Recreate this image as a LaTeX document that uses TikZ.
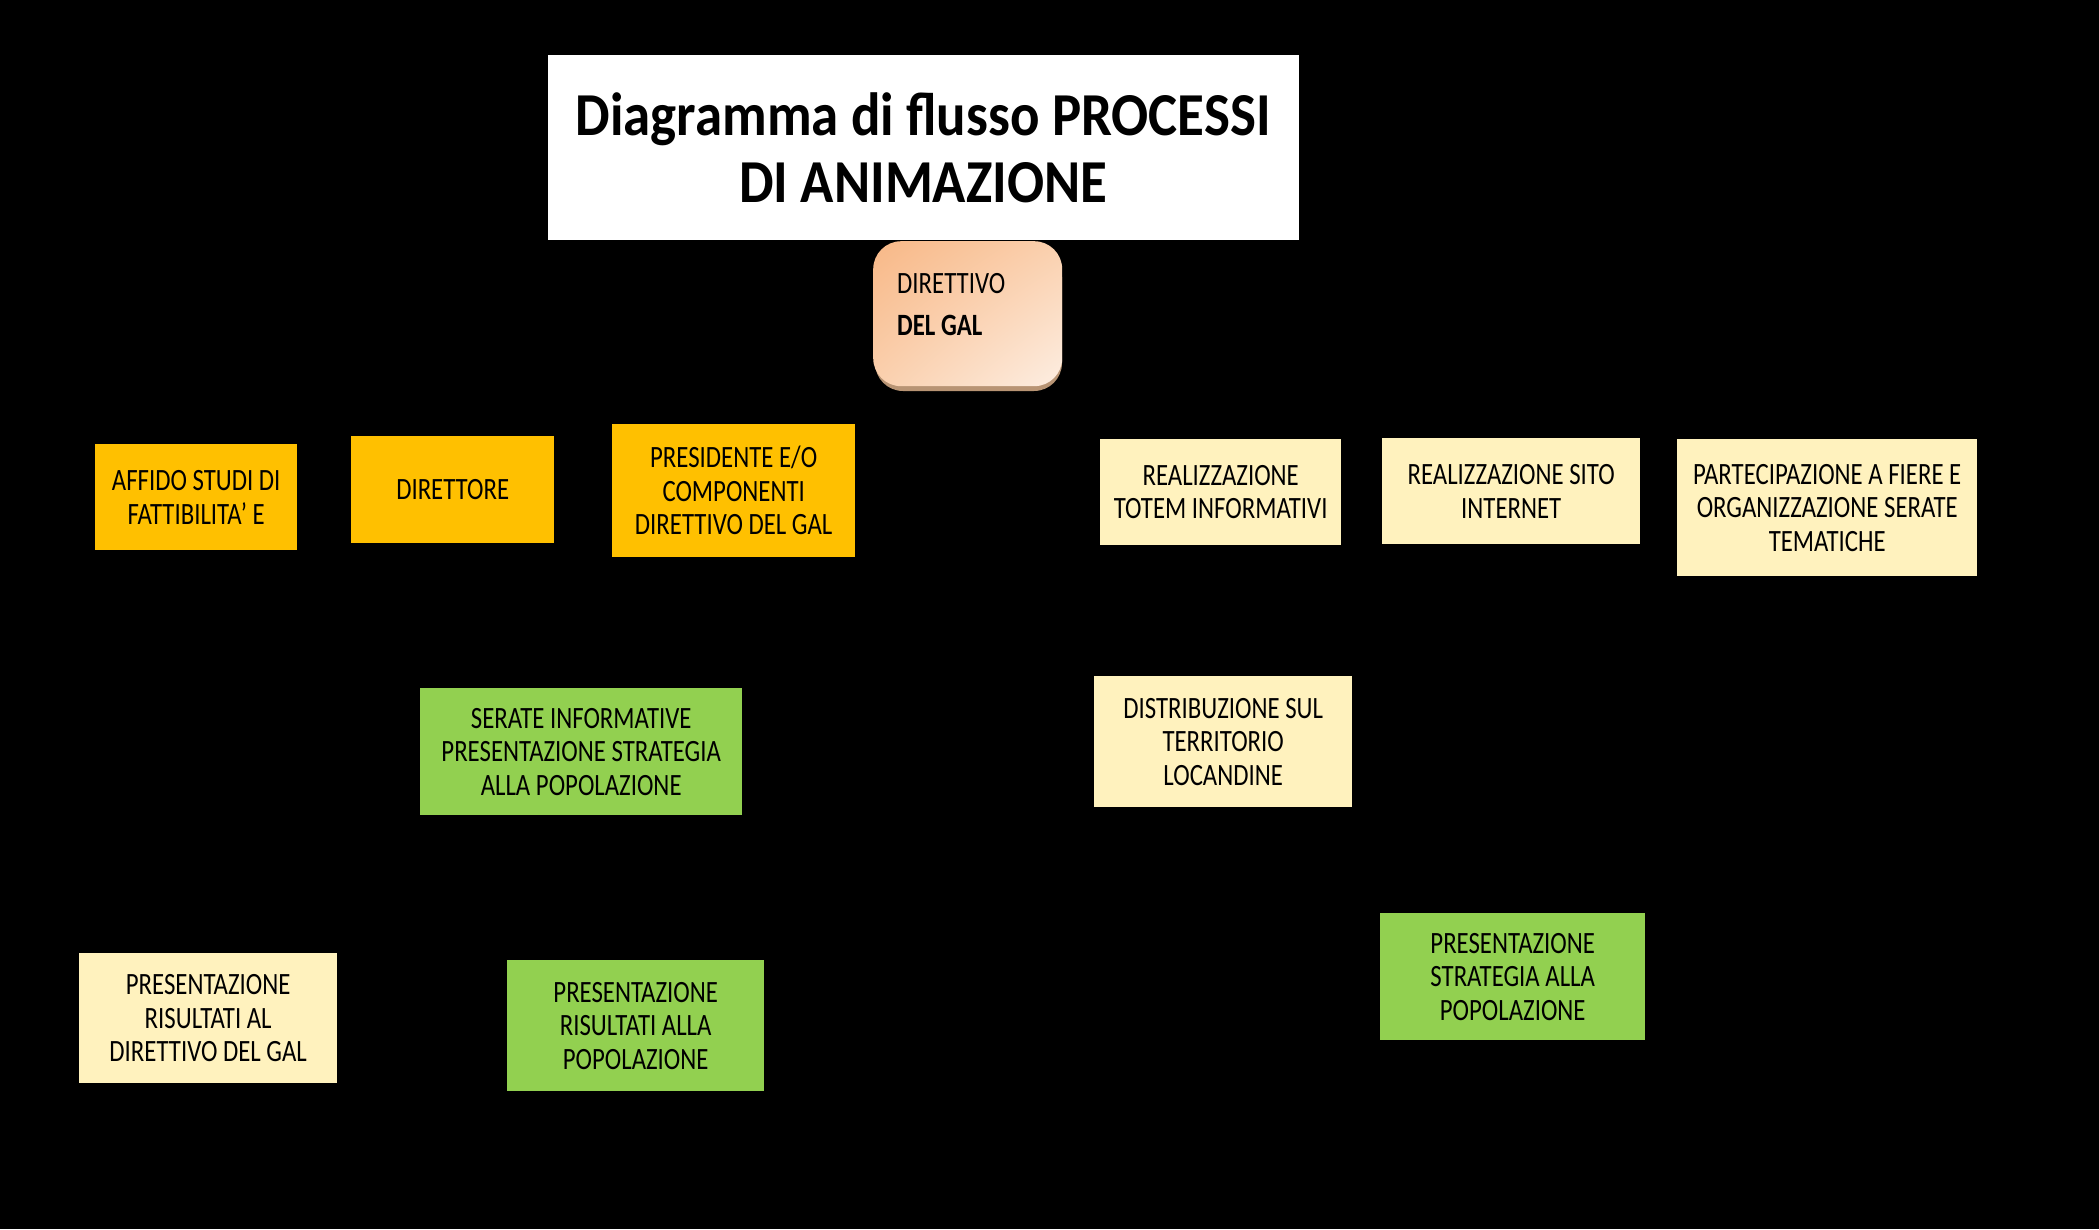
\documentclass[tikz,border=0pt]{standalone}
\usepackage{fontspec}
\usetikzlibrary{shadings}
\setmainfont{Carlito}[FakeStretch=0.8]
\newfontfamily\titlefont{Carlito}[FakeStretch=0.9]
\definecolor{orangebox}{HTML}{FFC000}
\definecolor{paleyellow}{HTML}{FFF2BE}
\definecolor{greenbox}{HTML}{92D050}
\definecolor{peachA}{HTML}{F8B887}
\definecolor{peachB}{HTML}{FAD0AE}
\definecolor{peachC}{HTML}{FDEEE2}
\definecolor{peachShadow}{HTML}{B89474}
\begin{document}
\begin{tikzpicture}[x=1pt,y=-1pt,
  box/.style={anchor=north west, inner sep=0pt, align=center,
    font=\fontsize{31}{33.5}\selectfont, text=black},
  orangestep/.style={box, fill=orangebox},
  yellowstep/.style={box, fill=paleyellow},
  greenstep/.style={box, fill=greenbox},
  sz/.style 2 args={minimum width=#1pt, minimum height=#2pt}
]
\path[fill=black] (0,0) rectangle (2099,1229);
\useasboundingbox (0,0) rectangle (2099,1229);

% title
\node[box, fill=white, sz={751}{185},
  font=\titlefont\bfseries\fontsize{61}{67}\selectfont] (title) at (547.5,55)
  {Diagramma di flusso PROCESSI\\DI ANIMAZIONE};

% direttivo del gal
\fill[peachShadow, rounded corners=28pt] (875,249) rectangle (1062,391);
\node[anchor=north west, inner sep=0pt, sz={189}{145}, rounded corners=28pt,
  shade, upper left=peachA, upper right=peachB, lower left=peachB,
  lower right=peachC] (dir) at (873,241) {};
\node[anchor=base west, inner sep=0pt, align=left,
  font=\fontsize{31}{42}\selectfont] (dirtext) at (897,335)
  {DIRETTIVO\\\textbf{DEL GAL}};

% row 1
\node[orangestep, sz={202}{106}] (affido) at (95,444) {AFFIDO STUDI DI\\FATTIBILITA' E};
\node[orangestep, sz={203}{107}] (direttore) at (351,436) {DIRETTORE};
\node[orangestep, sz={243}{133}] (presidente) at (612,424) {PRESIDENTE E/O\\COMPONENTI\\DIRETTIVO DEL GAL};
\node[yellowstep, sz={241}{106}] (totem) at (1100,439) {REALIZZAZIONE\\TOTEM INFORMATIVI};
\node[yellowstep, sz={258}{106}] (sito) at (1382,438) {REALIZZAZIONE SITO\\INTERNET};
\node[yellowstep, sz={300}{137}] (fiere) at (1677,439) {PARTECIPAZIONE A FIERE E\\ORGANIZZAZIONE SERATE\\TEMATICHE};

% row 2
\node[greenstep, sz={322}{127}] (serate) at (420,688) {SERATE INFORMATIVE\\PRESENTAZIONE STRATEGIA\\ALLA POPOLAZIONE};
\node[yellowstep, sz={258}{131}] (distrib) at (1094,676) {DISTRIBUZIONE SUL\\TERRITORIO\\LOCANDINE};

% row 3
\node[yellowstep, sz={258}{130}] (risdir) at (79,953) {PRESENTAZIONE\\RISULTATI AL\\DIRETTIVO DEL GAL};
\node[greenstep, sz={257}{131}] (rispop) at (507,960) {PRESENTAZIONE\\RISULTATI ALLA\\POPOLAZIONE};
\node[greenstep, sz={265}{127}] (strategia) at (1380,913) {PRESENTAZIONE\\STRATEGIA ALLA\\POPOLAZIONE};
\end{tikzpicture}
\end{document}
